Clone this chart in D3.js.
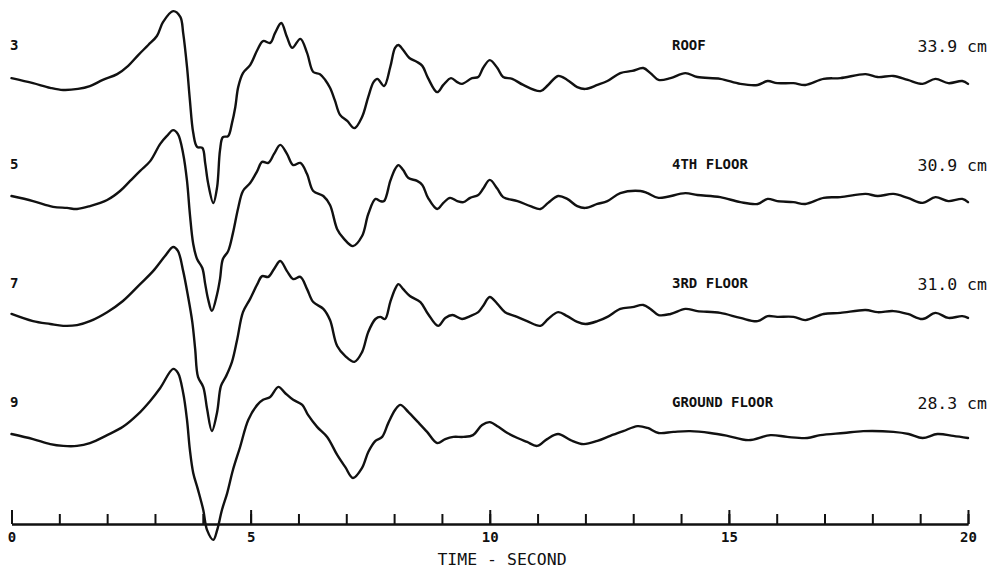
<!DOCTYPE html>
<html>
<head>
<meta charset="utf-8">
<script src="https://cdn.jsdelivr.net/npm/d3@7"></script>
<style>
  body { margin: 0; background: #fff; }
  svg { display: block; }
  .trace { fill: none; stroke: #111; stroke-width: 2.4; stroke-linejoin: round; stroke-linecap: round; }
  text { font-family: "DejaVu Sans Mono", "Liberation Mono", monospace; fill: #111; }
</style>
</head>
<body>
<svg id="chart"></svg>
<script>
// displacement records: [time (s), displacement (cm)]
const roof = [
  [0, 0.8], [0.45, -0.6], [0.81, -1.9], [1.08, -2.5], [1.39, -2.2], [1.64, -1.4], [1.91, 0.3],
  [2.21, 1.9], [2.44, 4.2], [2.65, 7.2], [2.86, 10.0], [3.04, 12.5], [3.17, 16.4], [3.38, 19.4],
  [3.53, 17.8], [3.59, 13.3], [3.67, 3.9], [3.73, -5.3], [3.80, -14.4], [3.88, -18.3], [3.99, -18.6],
  [4.05, -22.8], [4.11, -28.3], [4.22, -33.9], [4.30, -29.4], [4.36, -19.2], [4.42, -15.6], [4.53, -15.3],
  [4.61, -11.7], [4.68, -7.2], [4.74, -1.7], [4.84, 2.2], [4.99, 4.4], [5.14, 8.6], [5.26, 11.1],
  [5.41, 10.6], [5.51, 13.3], [5.64, 16.1], [5.76, 12.2], [5.87, 9.2], [6.04, 11.7], [6.18, 7.8],
  [6.31, 2.5], [6.45, 1.9], [6.56, 0.3], [6.66, -1.9], [6.76, -5.3], [6.87, -9.4], [7.02, -11.1],
  [7.17, -13.1], [7.33, -10.0], [7.46, -4.4], [7.57, -0.3], [7.65, 0.6], [7.79, -1.4], [7.92, 3.9],
  [8.02, 9.2], [8.09, 10.0], [8.19, 8.6], [8.32, 6.4], [8.48, 5.3], [8.59, 4.2], [8.71, 0.8],
  [8.90, -3.1], [9.03, -1.1], [9.19, 0.8], [9.32, -0.3], [9.42, -0.8], [9.63, 0.8], [9.76, 1.1],
  [9.86, 3.6], [10.0, 5.8], [10.16, 3.6], [10.28, 1.1], [10.47, 0.6], [10.70, -1.1], [11.06, -2.8],
  [11.22, -1.1], [11.43, 1.4], [11.62, 0.3], [11.83, -1.7], [12.0, -2.2], [12.25, -1.1], [12.46, 0],
  [12.73, 2.2], [12.98, 2.8], [13.21, 3.6], [13.36, 2.2], [13.53, 0.3], [13.78, 0.8], [14.09, 2.2],
  [14.34, 1.1], [14.82, 0.6], [15.24, -0.8], [15.60, -1.1], [15.81, 0], [16.01, -0.6], [16.35, -0.6],
  [16.60, -1.1], [16.98, 0.6], [17.33, 0.8], [17.86, 1.9], [18.11, 1.1], [18.44, 1.4], [18.74, 0.3],
  [19.05, -0.8], [19.32, 0.6], [19.59, -0.6], [19.88, 0], [20.0, -0.8]
];

const floor4 = [
  [0, 1.1], [0.45, -0.3], [0.87, -1.9], [1.16, -2.2], [1.37, -2.5], [1.64, -1.7], [2.0, 0],
  [2.27, 2.5], [2.48, 5.3], [2.69, 8.1], [2.90, 10.8], [3.11, 15.6], [3.25, 17.8], [3.38, 19.4],
  [3.48, 18.3], [3.59, 12.8], [3.67, 5.3], [3.73, -3.9], [3.80, -12.2], [3.88, -16.4], [3.99, -18.9],
  [4.05, -23.3], [4.11, -27.5], [4.19, -30.8], [4.30, -26.1], [4.36, -21.9], [4.42, -16.4], [4.53, -14.2],
  [4.63, -9.2], [4.74, -2.2], [4.84, 2.5], [4.99, 4.7], [5.14, 8.1], [5.24, 10.6], [5.37, 10.3],
  [5.49, 12.8], [5.62, 15.3], [5.76, 12.8], [5.89, 9.7], [6.04, 10.3], [6.18, 7.2], [6.31, 2.5],
  [6.52, 1.1], [6.66, -1.4], [6.81, -8.1], [6.94, -10.6], [7.14, -12.8], [7.33, -10.0], [7.46, -3.9],
  [7.61, 0.3], [7.71, -0.3], [7.79, -0.3], [7.92, 5.3], [8.02, 8.6], [8.09, 9.7], [8.19, 8.3],
  [8.30, 6.1], [8.48, 5.3], [8.59, 4.2], [8.71, 0.6], [8.90, -2.5], [9.03, -0.8], [9.17, 0.6],
  [9.32, -0.3], [9.45, -0.6], [9.59, 0.6], [9.76, 1.4], [9.86, 3.1], [10.0, 5.6], [10.16, 3.1],
  [10.28, 0.8], [10.58, -0.3], [10.85, -1.7], [11.06, -2.5], [11.22, -0.8], [11.43, 1.1], [11.62, 0.3],
  [11.83, -1.7], [12.0, -2.2], [12.25, -1.1], [12.46, -0.3], [12.73, 1.9], [13.15, 2.5], [13.30, 1.9],
  [13.53, 0.6], [14.09, 1.9], [14.34, 1.4], [14.82, 0.8], [15.24, -0.6], [15.60, -1.1], [15.81, 0.3],
  [16.01, -0.3], [16.35, -0.6], [16.60, -1.1], [16.98, 0.6], [17.33, 0.8], [17.86, 1.7], [18.11, 1.1],
  [18.44, 1.7], [18.74, 0.6], [19.05, -0.8], [19.32, 0.8], [19.59, -0.3], [19.88, 0.3], [20.0, -0.6]
];

const floor3 = [
  [0, 1.4], [0.45, -0.6], [0.81, -1.4], [1.08, -1.9], [1.37, -1.7], [1.64, -0.6], [2.0, 1.9],
  [2.33, 5.0], [2.69, 9.7], [2.96, 13.3], [3.21, 17.5], [3.38, 20.0], [3.48, 18.9], [3.59, 13.3],
  [3.69, 6.4], [3.78, -0.8], [3.84, -8.3], [3.90, -16.1], [4.01, -18.9], [4.09, -25.0], [4.19, -31.1],
  [4.30, -25.8], [4.38, -18.6], [4.49, -15.8], [4.61, -11.9], [4.72, -5.6], [4.84, 1.9], [4.99, 5.6],
  [5.14, 9.7], [5.24, 11.9], [5.37, 11.7], [5.49, 13.9], [5.62, 16.1], [5.76, 13.3], [5.89, 11.1],
  [6.04, 11.7], [6.18, 8.3], [6.31, 4.7], [6.52, 2.8], [6.66, -0.3], [6.81, -7.5], [6.98, -10.3],
  [7.17, -11.9], [7.33, -9.2], [7.46, -3.6], [7.61, 0], [7.71, 0.6], [7.81, 0], [7.92, 4.7],
  [8.02, 8.3], [8.09, 9.7], [8.19, 8.3], [8.33, 6.4], [8.55, 4.7], [8.71, 1.4], [8.92, -1.9],
  [9.07, 0.3], [9.22, 1.1], [9.42, 0], [9.59, 0.8], [9.76, 1.9], [9.86, 3.6], [10.0, 6.1],
  [10.16, 4.2], [10.32, 1.9], [10.53, 0.8], [10.78, -0.6], [11.06, -1.9], [11.22, 0], [11.43, 1.9],
  [11.62, 0.8], [11.83, -0.8], [12.0, -1.4], [12.25, -0.6], [12.46, 0.6], [12.73, 2.8], [12.98, 3.3],
  [13.21, 3.9], [13.36, 2.8], [13.53, 1.1], [13.78, 1.4], [14.09, 2.8], [14.34, 2.2], [14.82, 1.7],
  [15.24, 0.3], [15.60, -0.6], [15.81, 0.8], [16.01, 0.6], [16.35, 0.6], [16.60, -0.3], [16.98, 1.4],
  [17.33, 1.7], [17.86, 2.5], [18.11, 1.9], [18.44, 2.2], [18.74, 1.4], [19.05, 0], [19.32, 1.7],
  [19.59, 0.3], [19.88, 0.8], [20.0, 0.3]
];

const ground = [
  [0, 1.1], [0.45, -0.3], [0.81, -1.7], [1.08, -2.2], [1.37, -2.2], [1.64, -1.4], [2.0, 0.8],
  [2.33, 3.1], [2.63, 6.4], [2.90, 10.3], [3.11, 13.9], [3.38, 19.2], [3.48, 18.1], [3.59, 12.5],
  [3.67, 5.0], [3.73, -3.3], [3.80, -9.7], [3.90, -14.4], [4.01, -20.0], [4.09, -25.6], [4.22, -28.3],
  [4.30, -25.6], [4.40, -20.0], [4.51, -15.3], [4.63, -8.9], [4.78, -2.5], [4.95, 5.0], [5.14, 9.2],
  [5.26, 10.6], [5.41, 11.4], [5.58, 14.2], [5.72, 12.5], [5.89, 10.6], [6.08, 9.2], [6.20, 6.4],
  [6.39, 3.1], [6.60, 0.3], [6.81, -4.7], [6.98, -8.1], [7.14, -11.1], [7.33, -8.3], [7.46, -3.9],
  [7.61, -0.8], [7.75, 0.3], [7.88, 4.2], [8.02, 7.8], [8.13, 9.2], [8.30, 7.2], [8.50, 4.4],
  [8.69, 1.7], [8.90, -1.4], [9.07, -0.3], [9.24, 0.3], [9.45, 0.3], [9.65, 0.8], [9.84, 3.6],
  [10.0, 4.4], [10.18, 3.1], [10.37, 1.4], [10.58, 0], [10.78, -1.1], [10.99, -2.2], [11.20, -0.3],
  [11.43, 1.1], [11.69, -0.6], [11.96, -1.7], [12.25, -0.8], [12.52, 0.6], [12.79, 1.9], [13.09, 3.3],
  [13.30, 2.8], [13.53, 1.4], [13.84, 1.7], [14.19, 1.9], [14.61, 1.4], [14.97, 0.6], [15.41, -0.6],
  [15.87, 0.8], [16.22, 0.3], [16.64, 0], [16.91, 0.8], [17.40, 1.4], [17.81, 1.9], [18.44, 1.7],
  [18.76, 1.1], [19.05, 0], [19.36, 1.1], [19.69, 0.6], [20.0, 0]
];

const traceNumbers = ["3", "5", "7", "9"];
const floorNames = ["ROOF", "4TH FLOOR", "3RD FLOOR", "GROUND FLOOR"];
const peakLabels = ["33.9 cm", "30.9 cm", "31.0 cm", "28.3 cm"];
const majorTicks = [0, 5, 10, 15, 20];
const minorTicks = [0, 1, 2, 3, 4, 5, 6, 7, 8, 9, 10, 11, 12, 13, 14, 15, 16, 17, 18, 19, 20];

const traces = [roof, floor4, floor3, ground];

const width = 992;
const height = 570;
const axisY = 524;
const pxPerCm = 3.6;

const svg = d3.select("#chart")
  .attr("width", width)
  .attr("height", height);

svg.append("rect")
  .attr("width", width)
  .attr("height", height)
  .attr("fill", "#fff");

const x = d3.scaleLinear().domain([0, 20]).range([11.5, 968]);

// zero line of each record
const rowBase = d3.scaleLinear().domain([0, 3]).range([81, 438]);

const rows = svg.selectAll(".row")
  .data(traces)
  .enter()
  .append("g")
  .attr("class", "row");

rows.append("path")
  .attr("class", "trace")
  .attr("d", (d, i) => {
    const base = rowBase(i);
    const y = d3.scaleLinear().domain([0, 10]).range([base, base - 10 * pxPerCm]);
    return d3.line()
      .x(p => x(p[0]))
      .y(p => y(p[1]))
      .curve(d3.curveCatmullRom.alpha(0.5))(d);
  });

// record number on the left
rows.append("text")
  .attr("x", 10)
  .attr("y", (d, i) => rowBase(i) - 36)
  .attr("dy", "0.35em")
  .attr("font-size", 14)
  .attr("font-weight", "bold")
  .text((d, i) => traceNumbers[i]);

// floor name
rows.append("text")
  .attr("x", 672)
  .attr("y", (d, i) => rowBase(i) - 36)
  .attr("dy", "0.35em")
  .attr("font-size", 14)
  .attr("font-weight", "bold")
  .text((d, i) => floorNames[i]);

// peak displacement
rows.append("text")
  .attr("x", 987)
  .attr("y", (d, i) => rowBase(i) - 35)
  .attr("dy", "0.35em")
  .attr("text-anchor", "end")
  .attr("font-size", 16.5)
  .text((d, i) => peakLabels[i]);

// time axis: minor ticks every second, major every five
const minorAxis = d3.axisBottom(x)
  .tickValues(minorTicks)
  .tickSizeInner(-10)
  .tickSizeOuter(0)
  .tickFormat("");

const majorAxis = d3.axisBottom(x)
  .tickValues(majorTicks)
  .tickSizeInner(-14)
  .tickSizeOuter(0)
  .tickPadding(8)
  .tickFormat(d3.format("d"));

const gMinor = svg.append("g")
  .attr("transform", `translate(0,${axisY})`)
  .call(minorAxis);

const gMajor = svg.append("g")
  .attr("transform", `translate(0,${axisY})`)
  .call(majorAxis);

[gMinor, gMajor].forEach(g => {
  g.selectAll("path, line").attr("stroke", "#111").attr("stroke-width", 2);
});

gMajor.selectAll("text")
  .attr("font-family", "DejaVu Sans Mono, Liberation Mono, monospace")
  .attr("font-size", 14)
  .attr("font-weight", "bold")
  .attr("fill", "#111");

svg.append("text")
  .attr("x", 502)
  .attr("y", 559)
  .attr("dy", "0.35em")
  .attr("text-anchor", "middle")
  .attr("font-size", 16.5)
  .text("TIME - SECOND");
</script>
</body>
</html>
